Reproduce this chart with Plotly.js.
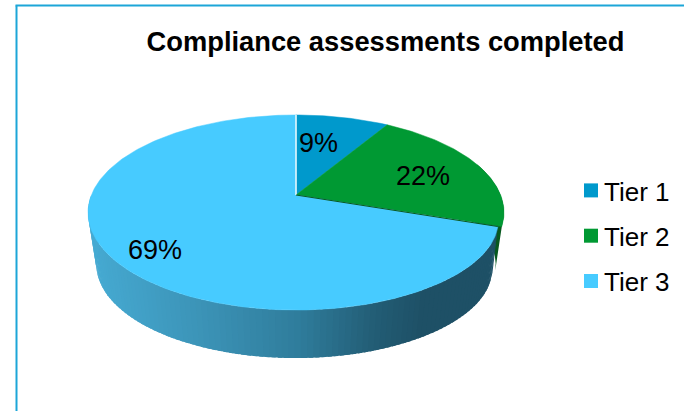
<!DOCTYPE html>
<html>
<head>
<meta charset="utf-8">
<script src="https://cdn.plot.ly/plotly-3.0.1.min.js"></script>
<style>html,body{margin:0;padding:0;background:#fff}#chart{width:684px;height:411px}</style>
</head>
<body>
<div id="chart"></div>
<script>
// Data
var categories = ["Tier 1", "Tier 2", "Tier 3"];
var sliceShares = [8.6, 21.5, 69.9];
var sliceLabels = ["9%", "22%", "69%"];
var titleText = "Compliance assessments completed";

// Style
var topColors = ["#0099CC", "#009933", "#47CBFF"];
var wallStops = [[96, [70, 170, 210]], [200, [60, 148, 184]], [300, [47, 124, 155]], [375, [34, 92, 116]], [420, [30, 80, 102]], [500, [30, 80, 102]]];
var fontName = "Liberation Sans, Arial, sans-serif";

// Projection of the tilted disc on to the page
var cx = 296, cy = 195, a = 94.4, b = 0.1795, c = 204.6, depth = 52.6, shrink = 0.96;
function project(theta, lower, dx) {
  var u = Math.sin(theta), v = -Math.cos(theta), d = 1 - b * v;
  var s = lower ? shrink : 1;
  return [cx + s * c * u / d - (dx || 0), cy + (lower ? depth : 0) + s * a * v / d];
}
function wallColor(x) {
  for (var i = 1; i < wallStops.length; i++) {
    if (x <= wallStops[i][0]) {
      var p = wallStops[i - 1], q = wallStops[i], t = Math.max(0, (x - p[0]) / (q[0] - p[0]));
      return "rgb(" + [0, 1, 2].map(function (k) { return Math.round(p[1][k] + t * (q[1][k] - p[1][k])); }).join(",") + ")";
    }
  }
  return "rgb(30,80,102)";
}
var rad = Math.PI / 180, traces = [];
var total = sliceShares.reduce(function (s, v) { return s + v; }, 0);
var edges = [0];
sliceShares.forEach(function (v, i) { edges.push(edges[i] + v / total * 360); });

// The Tier 3 rim sits a few pixels inside Tier 2 where they meet
function inset(t) {
  var k = Math.min(1, Math.max(0, 1 - (t - edges[2]) / 30));
  return 4 * k * k;
}
function wallStrip(t0, t1, lowT0, lowT1, color, useInset) {
  var n = 8, xs = [], ys = [], i, p, t;
  for (i = 0; i <= n; i++) {
    t = t0 + (t1 - t0) * i / n;
    p = project(t * rad, false, useInset ? inset(t) : 0); xs.push(p[0]); ys.push(p[1]);
  }
  for (i = n; i >= 0; i--) {
    t = lowT0 + (lowT1 - lowT0) * i / n;
    p = project(t * rad, true, useInset ? inset(t) * 0.6 : 0); xs.push(p[0]); ys.push(p[1]);
  }
  traces.push({ x: xs, y: ys, mode: "lines", fill: "toself", fillcolor: color, line: { width: 0 }, hoverinfo: "skip", showlegend: false });
}
// Side wall of Tier 2 (dark green sliver), then Tier 3 with its shading
var wallStep = 1.5, lowerStart = edges[2] - 3;
wallStrip(70, edges[2], 70, edges[2] - 4.5, "#07591F", false);
var starts = [];
for (var s = edges[2]; s < 270; s += wallStep) { starts.push(s); }
starts.forEach(function (t, idx) {
  var end = Math.min(t + wallStep + 1, 270);
  var low = idx === 0 ? lowerStart : t;
  wallStrip(t, end, low, end, wallColor(project((t + wallStep / 2) * rad, true)[0]), true);
});
// Top faces
sliceShares.forEach(function (v, i) {
  var xs = [cx], ys = [cy], steps = Math.ceil(edges[i + 1] - edges[i]);
  for (var k = 0; k <= steps; k++) {
    var t = edges[i] + (edges[i + 1] - edges[i]) * k / steps;
    var p = project(t * rad, false, i === 2 ? inset(t) : 0);
    xs.push(p[0]); ys.push(p[1]);
  }
  xs.push(cx); ys.push(cy);
  traces.push({ x: xs, y: ys, mode: "lines", fill: "toself", fillcolor: topColors[i], line: { color: topColors[i], width: 0.5 }, hoverinfo: "skip", showlegend: false });
});
// Slice edges: light line at the top, dark line under Tier 2
var e0 = project(0, false), e2 = project(edges[2] * rad, false, inset(edges[2]));
traces.push({ x: [cx, e0[0]], y: [cy, e0[1]], mode: "lines", line: { color: "#E4F6FC", width: 1.6 }, hoverinfo: "skip", showlegend: false });
traces.push({ x: [cx, e2[0]], y: [cy, e2[1]], mode: "lines", line: { color: "#07591F", width: 1.2 }, hoverinfo: "skip", showlegend: false });
// Legend entries
categories.forEach(function (name, i) {
  traces.push({ x: [null], y: [null], name: name, legendgroup: name, mode: "markers", marker: { symbol: "square", size: 14, color: topColors[i] }, hoverinfo: "skip" });
});

var labelSpots = [[318, 143], [423, 176], [155, 250]];
var layout = {
  width: 684, height: 411, margin: { l: 0, r: 0, t: 0, b: 0 },
  paper_bgcolor: "#fff", plot_bgcolor: "#fff",
  xaxis: { range: [0, 684], visible: false, fixedrange: true },
  yaxis: { range: [411, 0], visible: false, fixedrange: true },
  title: { text: "<b>" + titleText + "</b>", x: 385.5 / 684, xanchor: "center", y: 1 - 41 / 411, yanchor: "middle", font: { family: fontName, size: 27.3, color: "#000" } },
  showlegend: true,
  legend: { x: 564 / 684, xanchor: "left", y: 1 - 167 / 411, yanchor: "top", traceorder: "grouped", tracegroupgap: 8.5, itemwidth: 30, font: { family: fontName, size: 26, color: "#000" }, bgcolor: "rgba(0,0,0,0)" },
  annotations: sliceLabels.map(function (text, i) {
    return { text: text, x: labelSpots[i][0], y: labelSpots[i][1], xref: "x", yref: "y", showarrow: false, xanchor: "center", yanchor: "middle", font: { family: fontName, size: 27, color: "#000" } };
  }),
  shapes: [
    { type: "line", xref: "paper", yref: "paper", x0: 16.5 / 684, x1: 16.5 / 684, y0: 0, y1: 1 - 5.5 / 411, line: { color: "#1CA6D8", width: 2 } },
    { type: "line", xref: "paper", yref: "paper", x0: 15.5 / 684, x1: 1, y0: 1 - 5.5 / 411, y1: 1 - 5.5 / 411, line: { color: "#1CA6D8", width: 2 } }
  ]
};
Plotly.newPlot("chart", traces, layout, { displayModeBar: false, staticPlot: true }).then(function (gd) {
  // The swatches sit closer to their text than the legend's fixed item width allows
  gd.querySelectorAll(".legend .legendsymbols").forEach(function (g) { g.setAttribute("transform", "translate(7,0)"); });
});
</script>
</body>
</html>
